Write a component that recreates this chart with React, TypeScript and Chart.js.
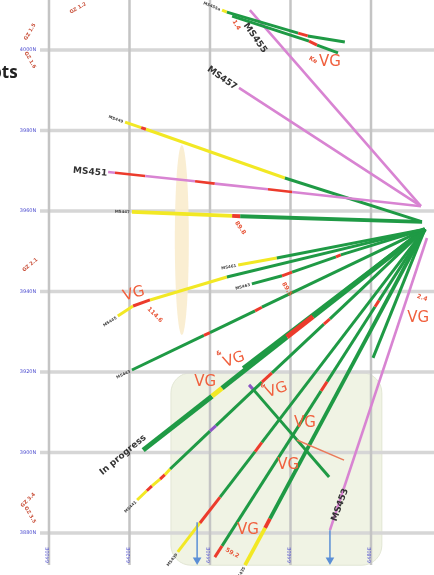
import React, { useEffect, useRef } from 'react';
import { Chart, registerables } from 'chart.js';

Chart.register(...registerables);

// local mine grid, metres (20 m grid)
const eMin = -12.17;
const eMax = 95.65;
const nMin = -10.43;
const nMax = 132.42;

const gridE = [0, 20, 40, 60, 80];
const gridN = [0, 20, 40, 60, 80, 100, 120];
const eastLabels = ['6400E', '6420E', '6440E', '6460E', '6480E'];
const northLabels = ['3880N', '3900N', '3920N', '3940N', '3960N', '3980N', '4000N'];

// drill traces in plan: vertices + grade class of each interval
// Y = low grade, R = high grade, G = waste, P = pending assays, U = other
interface Hole { id: string; e: number[]; n: number[]; seg: string }

const holes: Hole[] = [
  { id: 'MS455a', e: [43.0, 44.2, 61.9, 64.3, 73.5], n: [129.9, 129.4, 124.2, 123.5, 122.0], seg: 'YGRG' },
  { id: 'MS455b', e: [45.5, 64.6, 66.6, 71.8], n: [128.4, 122.2, 121.2, 119.3], seg: 'GRG' },
  { id: 'MS459', e: [49.9, 92.4], n: [129.9, 81.2], seg: 'P' },
  { id: 'MS457', e: [47.2, 92.4], n: [110.6, 81.2], seg: 'P' },
  { id: 'MS451', e: [14.7, 16.4, 23.9, 36.3, 41.2, 54.4, 60.4, 92.4], n: [89.7, 89.5, 88.7, 87.4, 86.8, 85.4, 84.7, 81.2], seg: 'PRPRPRP' },
  { id: 'MS449', e: [18.9, 22.9, 24.1, 58.6, 92.2], n: [102.1, 100.7, 100.3, 88.2, 77.5], seg: 'YRYG' },
  { id: 'MS447', e: [20.6, 45.5, 47.5, 92.7], n: [79.8, 78.8, 78.7, 77.3], seg: 'YRG' },
  { id: 'MS461', e: [47.0, 56.6, 93.4], n: [66.6, 68.3, 75.5], seg: 'YG' },
  { id: 'MS445', e: [17.1, 20.9, 25.1, 44.2, 93.4], n: [53.9, 56.4, 57.9, 63.6, 75.5], seg: 'YRYG' },
  { id: 'MS463', e: [50.4, 57.9, 60.4, 71.3, 72.5, 93.4], n: [61.9, 63.9, 64.8, 68.6, 69.1, 75.5], seg: 'GRGRG' },
  { id: 'MS443', e: [20.6, 38.5, 40.0, 51.2, 52.9, 93.4], n: [40.5, 49.1, 49.8, 55.2, 56.1, 75.5], seg: 'GRGRG' },
  { id: 'MS465', e: [23.4, 40.5, 43.0, 59.1, 65.6, 93.4], n: [20.6, 34.0, 36.0, 48.7, 53.8, 75.5], seg: 'GYGRG' },
  { id: 'MS467', e: [48.2, 93.4], n: [41.0, 75.5], seg: 'G' },
  { id: 'MS441', e: [21.9, 24.3, 25.6, 27.6, 28.8, 30.1, 40.0, 41.5, 52.9, 55.4, 68.3, 69.8, 93.4], n: [8.2, 10.5, 11.7, 13.4, 14.5, 15.9, 25.3, 26.7, 37.5, 39.8, 51.9, 53.2, 75.5], seg: 'YRYRYGUGRGRG' },
  { id: 'MS439', e: [32.0, 37.5, 42.5, 51.2, 52.9, 93.4], n: [-4.7, 2.5, 8.9, 20.2, 22.5, 75.5], seg: 'YRGRG' },
  { id: 'MS437', e: [41.2, 43.0, 67.6, 69.1, 81.0, 82.0, 93.4], n: [-6.0, -3.2, 35.3, 37.6, 56.2, 57.8, 75.5], seg: 'RGRGRG' },
  { id: 'MS435', e: [48.7, 53.7, 54.9, 93.4], n: [-8.0, 1.3, 3.6, 75.5], seg: 'YRG' },
  { id: 'MS469', e: [93.4, 80.5], n: [75.5, 43.5], seg: 'G' },
  { id: 'MS471', e: [49.7, 50.9, 69.6], n: [36.8, 35.5, 13.9], seg: 'UG' },
  { id: 'MS453', e: [93.9, 69.8], n: [73.3, 0.7], seg: 'P' },
];

const taggedHoles = ['MS455a', 'MS449', 'MS447', 'MS461', 'MS445', 'MS463', 'MS443', 'MS441', 'MS439', 'MS435'];

// channel sample line
const trenchE = [61.6, 73.3];
const trenchN = [23.1, 18.1];

// down-dip arrows
const arrowE = [36.8, 69.8];
const arrowTopN = [2.7, 0.7];
const arrowEndN = [-6.7, -6.7];

// visible gold observations
const vgLabels: [string, number, number, number][] = [
  ['VG', 69.8, 117.0, 0],
  ['VG', 21.1, 59.4, -15],
  ['VG', 46.0, 43.0, -20],
  ['VG', 38.8, 37.5, 0],
  ['VG', 56.6, 35.5, -20],
  ['VG', 63.6, 27.3, 0],
  ['VG', 59.4, 16.9, 0],
  ['VG', 49.4, 0.7, 0],
  ['VG', 91.7, 53.4, 0],
];

const gradeLabels: [string, number, number, number][] = [
  ['89.8', 47.5, 75.8, 55],
  ['114.6', 26.3, 54.2, 45],
  ['89.5', 59.1, 60.6, 60],
  ['59.2', 45.5, -5.0, 30],
  ['1.4', 46.5, 126.2, 60],
  ['Ke', 65.6, 117.5, 30],
  ['2.4', 92.7, 58.4, 20],
  ['&', 42.2, 44.6, -20],
  ['&', 53.2, 36.6, -20],
];

const sectionLabels: [string, number, number, number][] = [
  ['GZ 1.5', -4.7, 124.5, -60],
  ['GZ 1.6', -4.7, 117.5, 60],
  ['GZ 2.1', -4.7, 66.6, -40],
  ['GZ 3.4', -5.2, 8.2, -45],
  ['GZ 3.5', -4.7, 4.5, 60],
  ['GZ 1.2', 7.2, 130.4, -30],
];

const holeLabels: [string, number, number, number][] = [
  ['MS457', 43.0, 113.0, 35],
  ['MS451', 10.2, 89.7, 5],
  ['MS455', 51.2, 123.0, 55],
  ['MS453', 72.3, 7.0, -70],
  ['In progress', 18.4, 19.4, -40],
];

// zone outlines
const zoneE = [30.3, 82.7];
const zoneN = [39.8, -8.0];
const lensCentre = [33.0, 72.8];
const lensRadius = [1.74, 23.6];

const palette: Record<string, string> = {
  G: '#1f9a45',
  Y: '#f2e824',
  R: '#ec3b2c',
  P: '#d884d2',
  U: '#8b55c4',
};

const widthFor = (id: string) => {
  if (id === 'MS465') return 5;
  if (id === 'MS435' || id === 'MS447' || id === 'MS467') return 3.8;
  if (id.startsWith('MS45') && !id.startsWith('MS455')) return 2.6;
  return 3;
};

const drawText = (ctx: CanvasRenderingContext2D, text: string, x: number, y: number, rot: number, font: string, color: string) => {
  ctx.save();
  ctx.translate(x, y);
  ctx.rotate((rot * Math.PI) / 180);
  ctx.font = font;
  ctx.fillStyle = color;
  ctx.textAlign = 'center';
  ctx.textBaseline = 'middle';
  ctx.fillText(text, 0, 0);
  ctx.restore();
};

const planPlugin = {
  id: 'planView',
  beforeDatasetsDraw(chart: any) {
    const { ctx, scales, width, height } = chart;
    const px = (v: number) => scales.x.getPixelForValue(v);
    const py = (v: number) => scales.y.getPixelForValue(v);
    ctx.save();

    // shaded target zone
    const x0 = px(zoneE[0]), x1 = px(zoneE[1]), y0 = py(zoneN[0]), y1 = py(zoneN[1]);
    ctx.beginPath();
    ctx.roundRect(x0, y0, x1 - x0, y1 - y0, 20);
    ctx.fillStyle = '#f0f3e4';
    ctx.fill();
    ctx.strokeStyle = '#e2e6d4';
    ctx.lineWidth = 1;
    ctx.stroke();

    // grid
    ctx.strokeStyle = '#d6d6d6';
    ctx.lineWidth = 3.5;
    gridN.forEach((n) => {
      ctx.beginPath();
      ctx.moveTo(40, py(n));
      ctx.lineTo(width, py(n));
      ctx.stroke();
    });
    ctx.strokeStyle = '#c4c4c4';
    ctx.lineWidth = 2.5;
    gridE.forEach((e) => {
      ctx.beginPath();
      ctx.moveTo(px(e), 0);
      ctx.lineTo(px(e), height - 10);
      ctx.stroke();
    });

    // lens outline
    const cx = px(lensCentre[0]), cy = py(lensCentre[1]);
    const rx = px(lensCentre[0] + lensRadius[0]) - cx;
    const ry = cy - py(lensCentre[1] + lensRadius[1]);
    ctx.beginPath();
    ctx.ellipse(cx, cy, rx, ry, 0, 0, Math.PI * 2);
    ctx.fillStyle = 'rgba(250, 236, 205, 0.9)';
    ctx.fill();

    // axis labels
    gridN.forEach((n, i) => drawText(ctx, northLabels[i], 28, py(n), 0, '5px "DejaVu Sans"', '#4b4bcf'));
    gridE.forEach((e, i) => drawText(ctx, eastLabels[i], px(e) - 1, height - 20, -90, '5px "DejaVu Sans"', '#4b4bcf'));
    ctx.restore();
  },
  afterDatasetsDraw(chart: any) {
    const { ctx, scales } = chart;
    const px = (v: number) => scales.x.getPixelForValue(v);
    const py = (v: number) => scales.y.getPixelForValue(v);
    ctx.save();

    // hole name tags at the toe
    holes.filter((h) => taggedHoles.includes(h.id)).forEach((h) => {
      const sx = px(h.e[0]), sy = py(h.n[0]);
      const ang = Math.atan2(py(h.n[1]) - sy, px(h.e[1]) - sx);
      ctx.save();
      ctx.translate(sx, sy);
      ctx.rotate(ang);
      ctx.font = 'bold 4px "DejaVu Sans"';
      ctx.fillStyle = '#444';
      ctx.textAlign = 'right';
      ctx.textBaseline = 'middle';
      ctx.fillText(h.id, -2, 0.5);
      ctx.restore();
    });

    vgLabels.forEach(([t, e, n, r]) => drawText(ctx, t, px(e), py(n), r, '15px "DejaVu Sans"', '#f0603e'));
    gradeLabels.forEach(([t, e, n, r]) => drawText(ctx, t, px(e), py(n), r, 'bold 6px "DejaVu Sans"', '#e8573a'));
    sectionLabels.forEach(([t, e, n, r]) => drawText(ctx, t, px(e), py(n), r, 'bold 5px "DejaVu Sans"', '#c9503a'));
    holeLabels.forEach(([t, e, n, r]) => drawText(ctx, t, px(e), py(n), r, 'bold 9px "DejaVu Sans"', '#333'));

    // partial title at left edge
    ctx.font = 'bold 17px "Open Sans"';
    ctx.fillStyle = '#222';
    ctx.textAlign = 'right';
    ctx.textBaseline = 'middle';
    ctx.fillText('Intercepts', px(-7.8), py(114.3));
    ctx.restore();
  },
};

const App: React.FC = () => {
  const canvasRef = useRef<HTMLCanvasElement>(null);
  const chartRef = useRef<Chart | null>(null);

  useEffect(() => {
    document.body.style.margin = '0';
    if (!canvasRef.current) return;
    const ctx = canvasRef.current.getContext('2d');
    if (!ctx) return;

    const traces = holes.map((h) => ({
      label: h.id,
      data: h.e.map((e, i) => ({ x: e, y: h.n[i] })),
      showLine: true,
      borderColor: palette[h.seg[0]],
      segment: { borderColor: (c: any) => palette[h.seg[c.p0DataIndex]] },
      borderWidth: widthFor(h.id),
      borderCapStyle: 'butt' as const,
      pointRadius: 0,
    }));

    const trench = {
      label: 'channel',
      data: trenchE.map((e, i) => ({ x: e, y: trenchN[i] })),
      showLine: true,
      borderColor: '#ea7a5a',
      borderWidth: 1.5,
      pointRadius: 0,
    };

    const arrows = arrowE.map((e, i) => ({
      label: 'arrow' + i,
      data: [{ x: e, y: arrowTopN[i] }, { x: e, y: arrowEndN[i] }],
      showLine: true,
      borderColor: '#5b8fd6',
      backgroundColor: '#5b8fd6',
      borderWidth: 1.5,
      pointStyle: 'triangle' as const,
      rotation: 180,
      pointRadius: [0, 3.5],
    }));

    chartRef.current = new Chart(ctx, {
      type: 'scatter',
      data: { datasets: [...arrows, trench, ...traces] as any },
      options: {
        responsive: false,
        animation: false,
        events: [],
        layout: { padding: 0, autoPadding: false },
        plugins: { legend: { display: false }, tooltip: { enabled: false } },
        scales: {
          x: { type: 'linear', min: eMin, max: eMax, display: false },
          y: { type: 'linear', min: nMin, max: nMax, display: false },
        },
      },
      plugins: [planPlugin],
    });

    return () => {
      chartRef.current?.destroy();
    };
  }, []);

  return (
    <div style={{ width: 434, height: 575, background: '#fff' }}>
      <canvas ref={canvasRef} width={434} height={575} />
    </div>
  );
};

export default App;
